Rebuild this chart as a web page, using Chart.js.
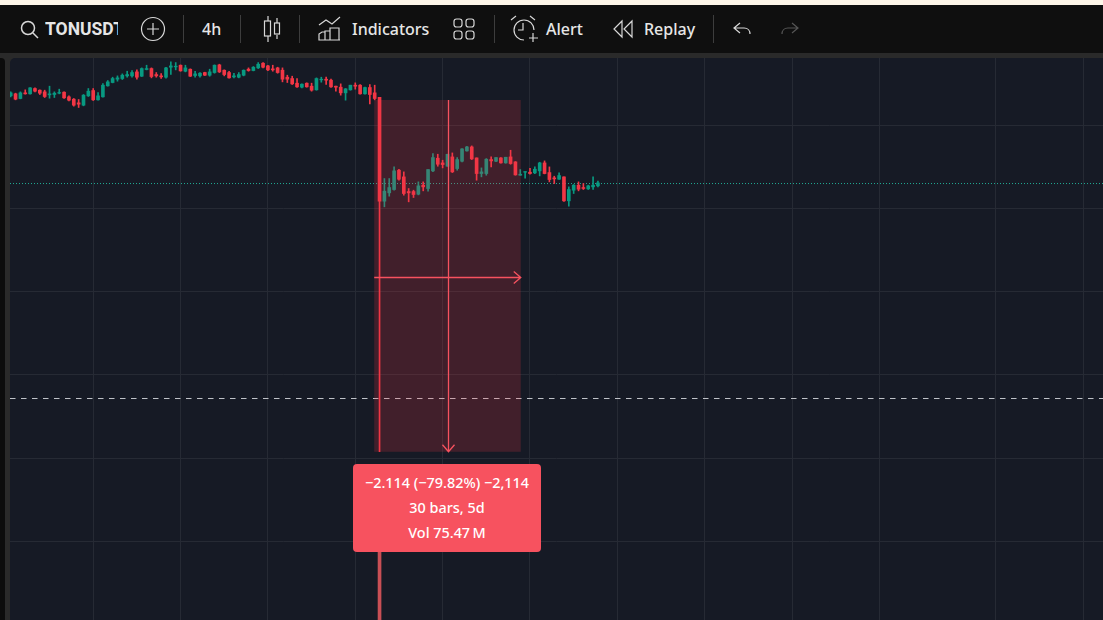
<!DOCTYPE html>
<html>
<head>
<meta charset="utf-8">
<title>TONUSDT 4h</title>
<script src="https://cdn.jsdelivr.net/npm/chart.js@4.4.1/dist/chart.umd.min.js"></script>
<style>
  html, body { margin:0; padding:0; background:#2a2a2a; overflow:hidden; width:1103px; height:620px; }
  body { position:relative; font-family:'Noto Sans','Lato',sans-serif; color:#e6e6e6; }
  #cream { position:absolute; left:0; top:0; width:1103px; height:5px; background:#fdf6e9; }
  #bar { position:absolute; left:0; top:5px; width:1103px; height:48px; background:#0f0f0f; }
  #strip { position:absolute; left:0; top:58px; width:5px; height:562px; background:#0c0c0c; border-top-right-radius:4px; }
  #panel { position:absolute; left:10px; top:58px; width:1093px; height:562px; background:#161a25; border-top-left-radius:5px; }
  #chart { position:absolute; left:10px; top:58px; }
  .t { position:absolute; top:0; line-height:48px; font-size:16px; font-weight:500; white-space:nowrap; }
  .sep { position:absolute; top:10px; width:1px; height:28px; background:#3d3d3d; }
  #bar svg { position:absolute; left:0; top:0; }
  #box { position:absolute; left:353px; top:464px; width:188px; height:88px; background:#f7525f; border-radius:4px;
         color:#fff; font-size:14.4px; font-weight:500; text-align:center; line-height:25px; padding-top:6px; box-sizing:border-box; }
</style>
</head>
<body>
<div id="cream"></div>
<div id="bar">
  <svg width="1103" height="48" fill="none" stroke="#d8d8d8" stroke-width="1.5">
    <circle cx="28" cy="23" r="6.5"/><path d="M33 28l5 5"/>
    <circle cx="153" cy="24" r="11.5" stroke-width="1.2"/><path d="M147 24h12M153 18v12" stroke-width="1.2"/>
    <path d="M268 11v5M268 31v6M277 13v5M277 30v4" stroke-width="1.2"/>
    <rect x="264.5" y="16" width="6" height="15" stroke-width="1.2"/><rect x="274.5" y="18" width="5" height="11" stroke-width="1.2"/>
    <path d="M319 20l7-5 6 4 8-7" stroke-width="1.2"/>
    <path d="M319 35v-6l3-2h3v8zM325 35v-9h5v9zM330 35v-12h9v12zM319 35h21" stroke-width="1.2"/>
    <rect x="454" y="14" width="8" height="8" rx="2.5" stroke-width="1.2"/><rect x="466" y="14" width="8" height="8" rx="2.5" stroke-width="1.2"/>
    <rect x="454" y="26" width="8" height="8" rx="2.5" stroke-width="1.2"/><rect x="466" y="26" width="8" height="8" rx="2.5" stroke-width="1.2"/>
    <path d="M534 25a10 10 0 1 0-10 10M523 18v7h-5M511 15l5-4M530 11l5 4M529 33h9M533 28v9" stroke-width="1.2"/>
    <path d="M622 16l-8 8 8 8zM632 16l-8 8 8 8z" stroke-width="1.2"/>
    <path d="M740 18l-6 5 6 5M734 23h10c4 0 6 3 6 6" stroke-width="1.2"/>
    <path d="M792 18l6 5-6 5M798 23h-10c-4 0-6 3-6 6" stroke="#555" stroke-width="1.2"/>
  </svg>
  <div class="t" style="left:45px;width:73px;overflow:hidden;font-family:Roboto,sans-serif;font-size:17.5px;font-weight:700">TONUSDT</div>
  <div class="sep" style="left:183px"></div>
  <div class="t" style="left:202px">4h</div>
  <div class="sep" style="left:240px"></div>
  <div class="sep" style="left:299px"></div>
  <div class="t" style="left:352px">Indicators</div>
  <div class="sep" style="left:494px"></div>
  <div class="t" style="left:546px">Alert</div>
  <div class="t" style="left:644px">Replay</div>
  <div class="sep" style="left:713px"></div>
</div>
<div id="strip"></div>
<div id="panel"></div>
<canvas id="chart" width="1093" height="562"></canvas>
<div id="box">
  <div>&minus;2.114 (&minus;79.82%) &minus;2,114</div>
  <div>30 bars, 5d</div>
  <div>Vol 75.47&#8201;M</div>
</div>
<script>
// prices, one entry per 4h bar
const opens = [2.677,2.689,2.661,2.695,2.689,2.721,2.711,2.701,2.683,2.685,
  2.693,2.699,2.671,2.657,2.635,2.621,2.677,2.709,2.653,2.671,
  2.737,2.757,2.777,2.781,2.797,2.797,2.821,2.795,2.835,2.841,
  2.805,2.797,2.789,2.849,2.851,2.861,2.825,2.837,2.799,2.797,
  2.817,2.801,2.817,2.863,2.831,2.817,2.791,2.789,2.801,2.837,
  2.829,2.845,2.873,2.857,2.839,2.845,2.831,2.789,2.781,2.753,
  2.729,2.753,2.735,2.713,2.773,2.777,2.771,2.735,2.729,2.695,
  2.713,2.741,2.741,2.689,2.727,2.695,2.668,
  2.044,2.094,2.114,2.230,2.190,2.102,2.102,2.086,2.140,2.120,
  2.226,2.302,2.274,2.254,2.310,2.240,2.284,2.346,2.370,2.304,
  2.210,2.210,2.294,2.284,2.304,2.274,2.310,2.280,2.200,2.218,
  2.218,2.214,2.226,2.274,2.216,2.184,2.176,2.190,2.046,2.110,
  2.140,2.126,2.118,2.130,2.136];
const closes = [2.695,2.657,2.695,2.689,2.725,2.705,2.693,2.673,2.689,2.693,
  2.697,2.665,2.651,2.621,2.627,2.681,2.705,2.653,2.677,2.741,
  2.761,2.781,2.785,2.801,2.805,2.817,2.789,2.841,2.841,2.793,
  2.797,2.791,2.845,2.857,2.855,2.827,2.845,2.795,2.809,2.813,
  2.801,2.821,2.861,2.821,2.805,2.785,2.797,2.805,2.831,2.829,
  2.849,2.867,2.849,2.833,2.833,2.817,2.777,2.777,2.749,2.731,
  2.747,2.731,2.711,2.781,2.777,2.771,2.731,2.729,2.695,2.719,
  2.741,2.735,2.689,2.727,2.685,2.661,2.044,
  2.104,2.126,2.226,2.176,2.090,2.094,2.084,2.136,2.130,2.234,
  2.306,2.266,2.264,2.326,2.220,2.294,2.358,2.370,2.298,2.210,
  2.220,2.296,2.286,2.306,2.274,2.308,2.270,2.202,2.206,2.222,
  2.210,2.236,2.274,2.210,2.174,2.178,2.198,2.046,2.114,2.140,
  2.116,2.120,2.136,2.140,2.154];
const highs = [2.701,2.693,2.701,2.713,2.727,2.725,2.713,2.711,2.735,2.701,
  2.717,2.701,2.677,2.661,2.655,2.685,2.721,2.721,2.697,2.751,
  2.769,2.789,2.797,2.809,2.825,2.829,2.833,2.845,2.861,2.845,
  2.817,2.811,2.849,2.881,2.877,2.863,2.861,2.839,2.825,2.817,
  2.819,2.837,2.863,2.867,2.833,2.825,2.813,2.817,2.833,2.845,
  2.853,2.877,2.877,2.861,2.861,2.849,2.845,2.801,2.795,2.781,
  2.749,2.755,2.753,2.785,2.789,2.789,2.777,2.735,2.749,2.721,
  2.741,2.755,2.745,2.729,2.745,2.741,2.668,
  2.180,2.180,2.250,2.236,2.220,2.120,2.110,2.160,2.160,2.234,
  2.330,2.326,2.290,2.326,2.334,2.306,2.360,2.374,2.376,2.304,
  2.244,2.300,2.310,2.306,2.306,2.308,2.350,2.282,2.234,2.222,
  2.242,2.250,2.278,2.286,2.250,2.194,2.214,2.190,2.130,2.144,
  2.160,2.150,2.140,2.190,2.164];
const lows = [2.671,2.653,2.659,2.687,2.687,2.701,2.685,2.667,2.663,2.667,
  2.689,2.661,2.647,2.615,2.607,2.617,2.673,2.649,2.651,2.669,
  2.735,2.755,2.765,2.775,2.789,2.789,2.777,2.793,2.833,2.785,
  2.789,2.781,2.783,2.805,2.833,2.825,2.821,2.793,2.789,2.789,
  2.799,2.795,2.813,2.817,2.797,2.783,2.785,2.785,2.797,2.825,
  2.827,2.841,2.845,2.829,2.825,2.813,2.761,2.757,2.745,2.727,
  2.725,2.729,2.705,2.711,2.759,2.745,2.727,2.705,2.681,2.651,
  2.711,2.717,2.687,2.687,2.629,2.653,0.538,
  2.010,2.074,2.110,2.170,2.080,2.040,2.066,2.082,2.106,2.104,
  2.222,2.254,2.244,2.254,2.216,2.230,2.280,2.344,2.294,2.170,
  2.190,2.200,2.250,2.282,2.272,2.272,2.266,2.200,2.200,2.182,
  2.206,2.210,2.196,2.208,2.160,2.150,2.174,2.042,2.014,2.090,
  2.106,2.114,2.114,2.114,2.130];

// tail of the crash bar that comes out under the measure box
const tailBar = 76;
const tailRange = [-0.48, -0.064];

const priceTicks = [0, 0.5, 1, 1.5, 2, 2.5];
const timeTicks = [17, 35, 53, 71, 89, 107, 125, 143, 161, 179, 203, 221];

const lastPrice = 2.150;
const dashedPrice = 0.858;

// measure tool
const rulerFromBar = 74.9;
const rulerToBar = 105.1;
const rulerMidBar = 90.1;
const rulerTop = 2.652;
const rulerBottom = 0.538;
const rulerMidPrice = 1.59;

const barMin = -0.144, barMax = 225.07;
const priceMin = -0.473, priceMax = 2.9044;

const RED = '#f23645', GREEN = '#089981';
const colors = opens.map((o, i) => closes[i] >= o ? GREEN : RED);

// draws above the candles, they show through tinted
const rulerPlugin = {
  id: 'ruler',
  afterDatasetsDraw(chart) {
    const { ctx, scales: { x, y } } = chart;
    const x0 = x.getPixelForValue(rulerFromBar), x1 = x.getPixelForValue(rulerToBar), xm = x.getPixelForValue(rulerMidBar);
    const y0 = y.getPixelForValue(rulerTop), y1 = y.getPixelForValue(rulerBottom), ym = y.getPixelForValue(rulerMidPrice);
    ctx.save();
    ctx.fillStyle = 'rgba(242,54,69,0.2)';
    ctx.fillRect(x0, y0, x1 - x0, y1 - y0);
    ctx.strokeStyle = '#f7525f';
    ctx.lineWidth = 1.3;
    const xp = Math.round(xm) + 0.5, yp = Math.round(ym) + 0.5;
    ctx.beginPath();
    ctx.moveTo(xp, y0); ctx.lineTo(xp, y1);
    ctx.moveTo(xp - 6, y1 - 7); ctx.lineTo(xp, y1); ctx.lineTo(xp + 6, y1 - 7);
    ctx.moveTo(x0, yp); ctx.lineTo(x1, yp);
    ctx.moveTo(x1 - 7, yp - 6); ctx.lineTo(x1, yp); ctx.lineTo(x1 - 7, yp + 6);
    ctx.stroke();
    ctx.restore();
  }
};

const hline = p => [{ x: barMin, y: p }, { x: barMax, y: p }];

new Chart(document.getElementById('chart'), {
  type: 'bar',
  data: {
    datasets: [
      { type: 'line', data: hline(lastPrice), borderColor: '#22ab94', borderWidth: 1, borderDash: [1, 2], pointRadius: 0, order: 3 },
      { type: 'line', data: hline(dashedPrice), borderColor: '#c3c6cc', borderWidth: 1, borderDash: [5.5, 5.5], pointRadius: 0, order: 3 },
      { data: highs.map((h, i) => ({ x: i, y: [lows[i], h] })), backgroundColor: colors, barThickness: 1, grouped: false, order: 2 },
      { data: opens.map((o, i) => ({ x: i, y: [o, closes[i]] })), backgroundColor: colors, barThickness: 3, grouped: false, order: 1 },
      { data: [{ x: tailBar, y: tailRange }], backgroundColor: '#c94f55', barThickness: 3, grouped: false, order: 1 }
    ]
  },
  options: {
    responsive: false,
    animation: false,
    devicePixelRatio: 1,
    layout: { padding: 0 },
    plugins: { legend: { display: false }, tooltip: { enabled: false } },
    scales: {
      x: {
        type: 'linear', min: barMin, max: barMax, offset: false,
        afterBuildTicks: s => { s.ticks = timeTicks.map(v => ({ value: v })); },
        ticks: { display: false },
        border: { display: false },
        grid: { color: '#262a34', drawTicks: false, offset: false }
      },
      y: {
        min: priceMin, max: priceMax,
        afterBuildTicks: s => { s.ticks = priceTicks.map(v => ({ value: v })); },
        ticks: { display: false },
        border: { display: false },
        grid: { color: '#262a34', drawTicks: false }
      }
    }
  },
  plugins: [rulerPlugin]
});
</script>
</body>
</html>
